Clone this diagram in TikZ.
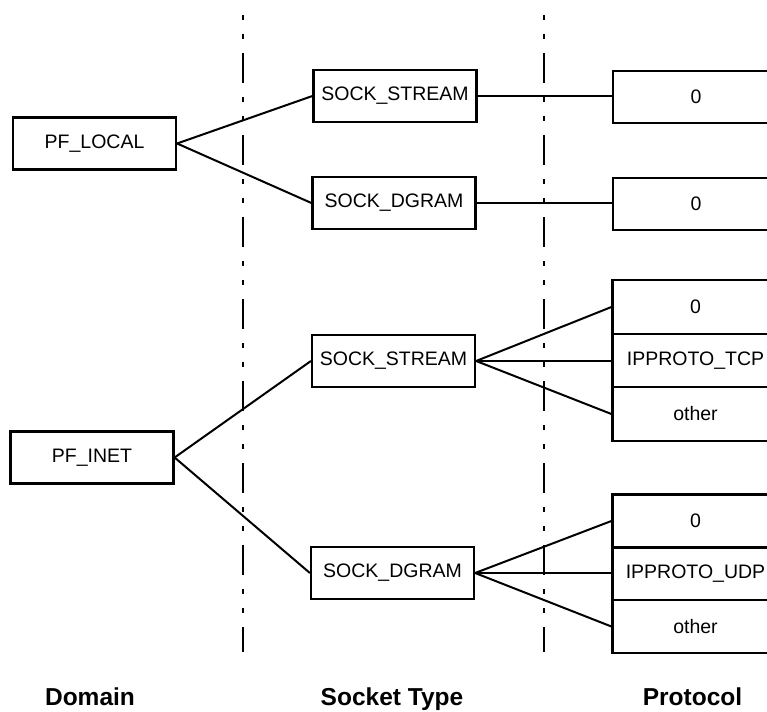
\documentclass[tikz,border=0pt]{standalone}
\usepackage{fontspec}
\setmainfont{Liberation Sans}
\begin{document}
\begin{tikzpicture}[x=1pt,y=-1pt,
  box/.style={draw, line width=2.2pt, minimum width=163pt, minimum height=52pt, inner sep=0pt, font=\fontsize{19.5}{23}\selectfont},
  pbox/.style={box, minimum width=166pt, minimum height=53.5pt},
  link/.style={line width=2pt},
  hlink/.style={line width=1.6pt},
  sep/.style={line width=2pt, dash pattern=on 30pt off 14pt on 5pt off 14pt on 5pt off 14pt, dash phase=44pt},
  lab/.style={font=\fontsize{24.5}{28}\selectfont\bfseries, anchor=base}]
\useasboundingbox (0,0) rectangle (767,711);
\clip (0,0) rectangle (767,711);
% separators
\coordinate (t1) at (243,15); \coordinate (b1) at (243,652);
\coordinate (t2) at (544,15); \coordinate (b2) at (544,652);
\draw[sep] (t1) -- (b1);
\draw[sep] (t2) -- (b2);
% domain
\node[box] (local) at (94.5,143.5) {PF\_LOCAL};
\node[box] (inet) at (92,457.5) {PF\_INET};
% socket types
\node[box] (ls) at (395,96) {SOCK\_STREAM};
\node[box] (ld) at (394,203) {SOCK\_DGRAM};
\node[box] (is) at (393.5,361) {SOCK\_STREAM};
\node[box] (id) at (392.5,573) {SOCK\_DGRAM};
% protocols
\node[pbox, minimum height=52pt] (lp) at (696,97) {0};
\node[pbox, minimum height=52pt] (dp) at (696,204) {0};
\node[pbox] (s0) at (695.5,307) {0};
\node[pbox] (s1) at (695.5,360.5) {IPPROTO\_TCP};
\node[pbox] (s2) at (695.5,414) {other};
\node[pbox, minimum height=53pt] (d0) at (695.5,521) {0};
\node[pbox, minimum height=53pt] (d1) at (695.5,573.5) {IPPROTO\_UDP};
\node[pbox, minimum height=53pt] (d2) at (695.5,626.5) {other};
% connectors
\draw[link] (local.east) -- (ls.west);
\draw[link] (local.east) -- (ld.west);
\draw[link] (inet.east) -- (is.west);
\draw[link] (inet.east) -- (id.west);
\draw[hlink] (ls.east) -- (ls.east -| lp.west);
\draw[hlink] (ld.east) -- (ld.east -| dp.west);
\draw[link] (is.east) -- (s0.west);
\draw[hlink] (is.east) -- (is.east -| s1.west);
\draw[link] (is.east) -- (s2.west);
\draw[link] (id.east) -- (d0.west);
\draw[hlink] (id.east) -- (id.east -| d1.west);
\draw[link] (id.east) -- (d2.west);
% column labels
\node[lab] (ldom) at (90,705) {Domain};
\node[lab] (lsock) at (392,705) {Socket Type};
\node[lab] (lprot) at (692.5,705) {Protocol};
\end{tikzpicture}
\end{document}
